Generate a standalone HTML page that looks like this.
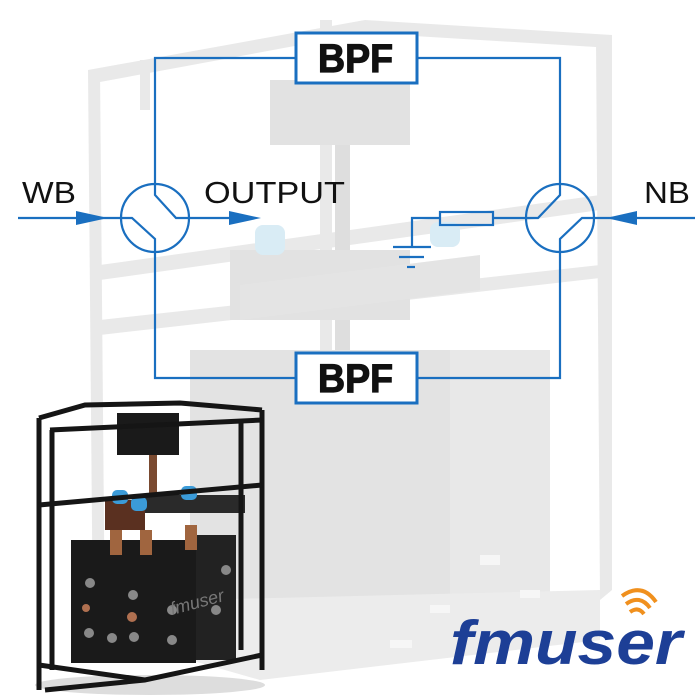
<!DOCTYPE html>
<html><head><meta charset="utf-8"><style>
html,body{margin:0;padding:0;background:#fff;}
svg{display:block}
</style></head><body>
<svg width="700" height="700" viewBox="0 0 700 700" xmlns="http://www.w3.org/2000/svg">
<rect width="700" height="700" fill="#fff"/>
<g fill="#e9e9e9">
  <polygon points="88,70 365,20 612,35 612,48 365,33 100,82"/>
  <polygon points="88,70 100,70 105,640 93,640"/>
  <polygon points="596,40 612,40 612,590 600,600"/>
  <polygon points="140,60 150,60 150,110 140,110"/>
  <polygon points="100,265 600,195 600,210 100,280"/>
  <polygon points="100,320 600,265 600,278 100,335"/>
  <polygon points="320,20 332,20 332,470 320,470"/>
  <polygon points="365,28 372,28 372,90 365,90"/>
</g>
<rect x="270" y="80" width="140" height="65" fill="#e2e2e2"/>
<rect x="335" y="145" width="15" height="240" fill="#dedede"/>
<rect x="230" y="250" width="180" height="70" fill="#e2e2e2"/>
<polygon points="240,285 480,255 480,290 240,320" fill="#e4e4e4"/>
<rect x="255" y="225" width="30" height="30" rx="8" fill="#d9ecf5"/>
<rect x="430" y="222" width="30" height="25" rx="8" fill="#d9ecf5"/>
<rect x="190" y="350" width="360" height="250" fill="#e3e3e3"/>
<rect x="450" y="350" width="100" height="250" fill="#e8e8e8"/>
<polygon points="190,600 600,590 600,640 260,680 190,660" fill="#ececec"/>
<g fill="#f6f6f6"><rect x="480" y="555" width="20" height="10"/><rect x="430" y="605" width="20" height="8"/><rect x="390" y="640" width="22" height="8"/><rect x="520" y="590" width="20" height="8"/></g>

<g stroke="#1a6fc0" stroke-width="2.2" fill="none">
  <polyline points="155,184 155,58 296,58"/>
  <polyline points="417,58 560,58 560,184"/>
  <polyline points="155,252 155,378 296,378"/>
  <polyline points="417,378 560,378 560,252"/>
  <circle cx="155" cy="218" r="34"/>
  <circle cx="560" cy="218" r="34"/>
  <polyline points="155,184 155,195 176,218 189,218"/>
  <polyline points="121,218 132,218 155,239 155,252"/>
  <polyline points="560,184 560,195 538,218 526,218"/>
  <polyline points="594,218 582,218 560,239 560,252"/>
  <line x1="18" y1="218" x2="121" y2="218"/>
  <line x1="189" y1="218" x2="240" y2="218"/>
  <line x1="594" y1="218" x2="695" y2="218"/>
  <line x1="526" y1="218" x2="493" y2="218"/>
  <rect x="440" y="212" width="53" height="13"/>
  <polyline points="440,218 412,218 412,247"/>
  <line x1="393" y1="247" x2="431" y2="247"/>
  <line x1="399" y1="257" x2="424" y2="257"/>
  <line x1="407" y1="267" x2="415" y2="267"/>
</g>
<g fill="#1a6fc0">
  <polygon points="76,211 108,218 76,225"/>
  <polygon points="229,211 261,218 229,225"/>
  <polygon points="637,211 606,218 637,225"/>
</g>
<rect x="296" y="33" width="121" height="50" fill="#fff" stroke="#1a6fc0" stroke-width="3"/>
<rect x="296" y="353" width="121" height="50" fill="#fff" stroke="#1a6fc0" stroke-width="3"/>
<g font-family="Liberation Sans, sans-serif" fill="#111">
  <text x="318" y="72" font-size="40" font-weight="bold" stroke="#111" stroke-width="1.2" textLength="75" lengthAdjust="spacingAndGlyphs">BPF</text>
  <text x="318" y="392" font-size="40" font-weight="bold" stroke="#111" stroke-width="1.2" textLength="75" lengthAdjust="spacingAndGlyphs">BPF</text>
  <text x="22" y="203" font-size="31" textLength="54" lengthAdjust="spacingAndGlyphs">WB</text>
  <text x="204" y="203" font-size="31" textLength="141" lengthAdjust="spacingAndGlyphs">OUTPUT</text>
  <text x="644" y="203" font-size="31" textLength="46" lengthAdjust="spacingAndGlyphs">NB</text>
</g>

<ellipse cx="150" cy="685" rx="115" ry="10" fill="#ddd"/>
<g fill="#1a1a1a">
  <rect x="71" y="540" width="125" height="123"/>
  <rect x="196" y="535" width="40" height="125" fill="#222"/>
  <rect x="117" y="413" width="62" height="42"/>
  <rect x="149" y="455" width="8" height="40" fill="#7a4a30"/>
  <rect x="105" y="500" width="40" height="30" fill="#5a3020"/>
  <rect x="145" y="495" width="100" height="18" fill="#2a2a2a"/>
  <rect x="110" y="530" width="12" height="25" fill="#a0653f"/>
  <rect x="140" y="530" width="12" height="25" fill="#a0653f"/>
  <rect x="185" y="525" width="12" height="25" fill="#a0653f"/>
</g>
<g fill="#3b9bd8">
  <rect x="112" y="490" width="16" height="14" rx="5"/>
  <rect x="131" y="497" width="16" height="14" rx="5"/>
  <rect x="181" y="486" width="16" height="14" rx="5"/>
</g>
<g fill="#888">
  <circle cx="90" cy="583" r="5"/><circle cx="133" cy="595" r="5"/><circle cx="89" cy="633" r="5"/><circle cx="112" cy="638" r="5"/><circle cx="134" cy="637" r="5"/><circle cx="172" cy="610" r="5"/><circle cx="172" cy="640" r="5"/><circle cx="226" cy="570" r="5"/><circle cx="216" cy="610" r="5"/><circle cx="86" cy="608" r="4" fill="#b07050"/><circle cx="132" cy="617" r="5" fill="#b07050"/>
</g>
<text x="172" y="615" font-family="Liberation Sans, sans-serif" font-style="italic" font-size="18" fill="#777" transform="rotate(-15 172 615)">fmuser</text>
<g stroke="#151515" stroke-width="5" fill="none">
  <polyline points="39,418 85,405 180,403 262,410"/>
  <polyline points="39,418 39,690"/>
  <polyline points="262,410 262,670"/>
  <polyline points="50,430 262,420"/>
  <polyline points="39,505 262,485"/>
  <polyline points="39,665 145,680 262,655"/>
  <polyline points="45,690 145,680"/>
  <line x1="52" y1="430" x2="52" y2="670"/>
  <line x1="241" y1="420" x2="241" y2="650"/>
</g>

<text x="450" y="664" font-family="Liberation Sans, sans-serif" font-style="italic" font-weight="bold" font-size="62" fill="#1d3f96" textLength="232" lengthAdjust="spacingAndGlyphs">fmuser</text>
<g stroke="#f0901e" stroke-width="4" fill="none">
  <path d="M630,612 q8,-6 14,2"/>
  <path d="M626,604 q14,-10 24,4"/>
  <path d="M622,596 q20,-14 34,6"/>
</g>
</svg>
</body></html>
